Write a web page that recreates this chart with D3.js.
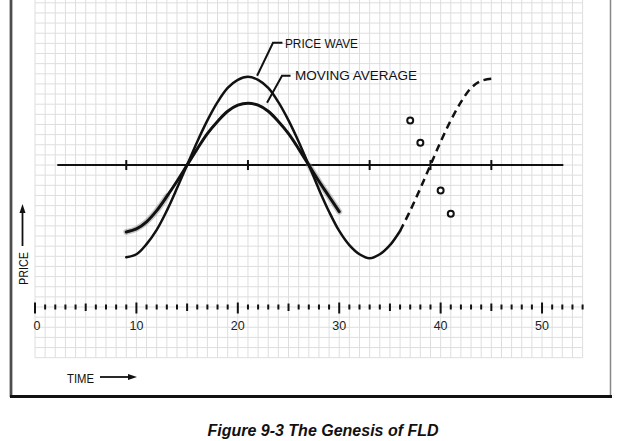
<!DOCTYPE html>
<html>
<head>
<meta charset="utf-8">
<script src="https://cdn.jsdelivr.net/npm/d3@7/dist/d3.min.js"></script>
<style>
  body { margin: 0; background: #fff; }
  svg { display: block; font-family: "Liberation Sans", Arial, sans-serif; }
</style>
</head>
<body>
<div id="chart"></div>
<script>
// time axis ticks + labels
const timeTicks = [0, 1, 2, 3, 4, 5, 6, 7, 8, 9, 10, 11, 12, 13, 14, 15, 16, 17, 18, 19, 20,
    21, 22, 23, 24, 25, 26, 27, 28, 29, 30, 31, 32, 33, 34, 35, 36, 37, 38, 39, 40,
    41, 42, 43, 44, 45, 46, 47, 48, 49, 50, 51, 52, 53, 54];
const timeLabels = [0, 10, 20, 30, 40, 50];

// price wave (solid part)
const waveTimes = [9, 10, 11, 12, 13, 14, 15, 16, 17, 18, 19, 20, 21, 22, 23, 24, 25, 26, 27,
    28, 29, 30, 31, 32, 33, 34, 35, 36];
const waveValues = [-9.1, -8.8, -7.8, -6.4, -4.5, -2.3, 0, 2.3, 4.4, 6.2, 7.6, 8.4, 8.7, 8.4,
    7.6, 6.2, 4.4, 2.3, 0, -2.4, -4.6, -6.5, -7.9, -8.8, -9.2, -8.8, -7.9, -6.5];

// projected price wave (dashed)
const projTimes = [36, 37, 38, 39, 40, 41, 42, 43, 44, 45];
const projValues = [-6.5, -4.5, -2.3, 0, 2.3, 4.4, 6.2, 7.6, 8.3, 8.5];

// centred moving average
const maTimes = [9, 10, 11, 12, 13, 14, 15, 16, 17, 18, 19, 20, 21, 22, 23, 24, 25, 26, 27,
    28, 29, 30];
const maValues = [-6.6, -6.3, -5.6, -4.5, -3.1, -1.6, 0, 1.6, 3.1, 4.3, 5.3, 5.9, 6.1, 5.9,
    5.3, 4.3, 3.1, 1.6, 0, -1.6, -3.1, -4.6];

// FLD points
const fldTimes = [37, 38, 40, 41];
const fldValues = [4.4, 2.2, -2.5, -4.8];

// cycle marks on the zero line (troughs / peaks / FLD cross)
const cycleMarks = [9, 21, 33, 39, 45];

const svg = d3.select("#chart")
    .append("svg")
    .attr("width", 625)
    .attr("height", 441);

const x = d3.scaleLinear().domain([0, 54]).range([35, 582.6]);
const y = d3.scaleLinear().domain([-19, 16]).range([357.7, 2.8]);

// grid paper
const grid = svg.append("g").attr("class", "grid")
    .attr("stroke", "#dedede")
    .attr("stroke-width", 1);

grid.selectAll("line.v")
    .data(timeTicks)
    .enter().append("line")
    .attr("class", "v")
    .attr("x1", d => x(d)).attr("x2", d => x(d))
    .attr("y1", 0).attr("y2", y(-19));

grid.selectAll("line.h")
    .data(d3.range(-19, 17))
    .enter().append("line")
    .attr("class", "h")
    .attr("x1", x(0)).attr("x2", x(54))
    .attr("y1", d => y(d)).attr("y2", d => y(d));

// frame
svg.append("line")
    .attr("x1", 11).attr("x2", 11).attr("y1", 0).attr("y2", 397)
    .attr("stroke", "#bbb").attr("stroke-width", 4);
svg.append("line")
    .attr("x1", 11).attr("x2", 11).attr("y1", 0).attr("y2", 397)
    .attr("stroke", "#333").attr("stroke-width", 1.6);
svg.append("line")
    .attr("x1", 610.5).attr("x2", 610.5).attr("y1", 0).attr("y2", 397)
    .attr("stroke", "#888").attr("stroke-width", 1.5);
svg.append("line")
    .attr("x1", 10).attr("x2", 612).attr("y1", 396.5).attr("y2", 396.5)
    .attr("stroke", "#111").attr("stroke-width", 3);

// zero line
svg.append("line")
    .attr("x1", x(2.2)).attr("x2", x(52.1))
    .attr("y1", y(0)).attr("y2", y(0))
    .attr("stroke", "#111").attr("stroke-width", 2);

svg.selectAll("line.cycle")
    .data(cycleMarks)
    .enter().append("line")
    .attr("class", "cycle")
    .attr("x1", d => x(d)).attr("x2", d => x(d))
    .attr("y1", y(0) - 5).attr("y2", y(0) + 5)
    .attr("stroke", "#111").attr("stroke-width", 2);

// time scale row
const rowY = y(-14);
svg.selectAll("line.tick")
    .data(timeTicks)
    .enter().append("line")
    .attr("class", "tick")
    .attr("x1", d => x(d)).attr("x2", d => x(d))
    .attr("y1", d => d % 10 === 0 ? rowY - 4.5 : d % 5 === 0 ? rowY - 3.5 : rowY - 2.5)
    .attr("y2", d => d % 10 === 0 ? rowY + 6.5 : d % 5 === 0 ? rowY + 4 : rowY + 2.5)
    .attr("stroke", "#111").attr("stroke-width", 2);

svg.selectAll("text.tlabel")
    .data(timeLabels)
    .enter().append("text")
    .attr("class", "tlabel")
    .attr("x", d => x(d) + (d === 0 ? 2 : 0))
    .attr("y", rowY + 23)
    .attr("text-anchor", "middle")
    .attr("font-size", "12.5px")
    .attr("fill", "#222")
    .text(d => d);

// curves
const line = d3.line()
    .x(d => x(d[0]))
    .y(d => y(d[1]))
    .curve(d3.curveCatmullRom);

const maPts = maTimes.map((t, i) => [t, maValues[i]]);

// smudgy ends of the average
[maPts.slice(0, 5), maPts.slice(-4)].forEach(pts => {
    svg.append("path")
        .attr("d", line(pts))
        .attr("fill", "none")
        .attr("stroke", "#888")
        .attr("stroke-opacity", 0.45)
        .attr("stroke-width", 6)
        .attr("stroke-linecap", "round");
});

svg.append("path")
    .attr("class", "ma")
    .attr("d", line(maPts))
    .attr("fill", "none")
    .attr("stroke", "#111")
    .attr("stroke-width", 3)
    .attr("stroke-linecap", "round");

svg.append("path")
    .attr("class", "wave")
    .attr("d", line(waveTimes.map((t, i) => [t, waveValues[i]])))
    .attr("fill", "none")
    .attr("stroke", "#111")
    .attr("stroke-width", 2.5)
    .attr("stroke-linecap", "round");

svg.append("path")
    .attr("class", "proj")
    .attr("d", line(projTimes.map((t, i) => [t, projValues[i]])))
    .attr("fill", "none")
    .attr("stroke", "#111")
    .attr("stroke-width", 2.5)
    .attr("stroke-dasharray", "7.5 5");

svg.selectAll("circle.fld")
    .data(fldTimes.map((t, i) => [t, fldValues[i]]))
    .enter().append("circle")
    .attr("class", "fld")
    .attr("cx", d => x(d[0]))
    .attr("cy", d => y(d[1]))
    .attr("r", 3)
    .attr("fill", "#fff")
    .attr("stroke", "#111")
    .attr("stroke-width", 2);

// leader labels
const labels = [
    { text: "PRICE WAVE", tx: 24.65, ty: 11.5, len: 73,
      path: [[21.9, 8.8], [23.47, 12.05], [24.4, 12.05]] },
    { text: "MOVING AVERAGE", tx: 25.65, ty: 8.4, len: 122,
      path: [[22.88, 6.15], [24.36, 8.8], [25.2, 8.8]] }
];

labels.forEach(l => {
    svg.append("path")
        .attr("d", d3.line().x(d => x(d[0])).y(d => y(d[1]))(l.path))
        .attr("fill", "none")
        .attr("stroke", "#111")
        .attr("stroke-width", 2);
    svg.append("text")
        .attr("x", x(l.tx))
        .attr("y", y(l.ty))
        .attr("font-size", "13.5px")
        .attr("textLength", l.len)
        .attr("lengthAdjust", "spacingAndGlyphs")
        .attr("fill", "#111")
        .text(l.text);
});

// PRICE arrow (vertical)
svg.append("text")
    .attr("transform", "translate(28,285) rotate(-90)")
    .attr("font-size", "13.5px")
    .attr("textLength", 33)
    .attr("lengthAdjust", "spacingAndGlyphs")
    .attr("fill", "#111")
    .text("PRICE");
svg.append("line")
    .attr("x1", 22.5).attr("x2", 22.5).attr("y1", 246).attr("y2", 212)
    .attr("stroke", "#111").attr("stroke-width", 1.8);
svg.append("path")
    .attr("d", "M22.5,204 L19.5,213 L25.5,213 Z")
    .attr("fill", "#111");

// TIME arrow
svg.append("text")
    .attr("x", 67).attr("y", 383)
    .attr("font-size", "13.5px")
    .attr("textLength", 27)
    .attr("lengthAdjust", "spacingAndGlyphs")
    .attr("fill", "#111")
    .text("TIME");
svg.append("line")
    .attr("x1", 100).attr("x2", 130).attr("y1", 377).attr("y2", 377)
    .attr("stroke", "#111").attr("stroke-width", 1.8);
svg.append("path")
    .attr("d", "M137,377 L128,374 L128,380 Z")
    .attr("fill", "#111");

// caption
svg.append("text")
    .attr("x", 323).attr("y", 436)
    .attr("text-anchor", "middle")
    .attr("font-size", "16px")
    .attr("font-weight", "bold")
    .attr("font-style", "italic")
    .attr("fill", "#111")
    .text("Figure 9-3 The Genesis of FLD");
</script>
</body>
</html>
